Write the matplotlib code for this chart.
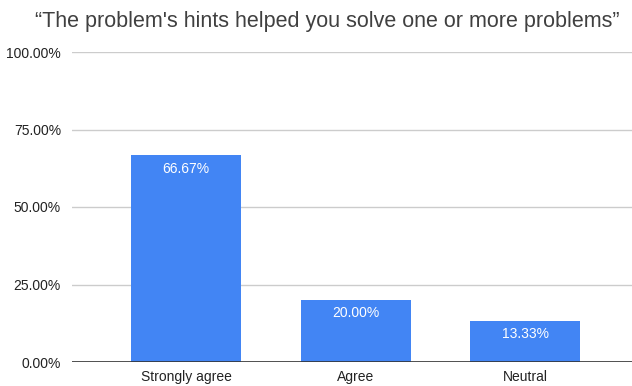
import matplotlib.pyplot as plt
from matplotlib.ticker import PercentFormatter

plt.rcParams['font.family'] = ['Liberation Sans', 'DejaVu Sans']

categories = ['Strongly agree', 'Agree', 'Neutral']
values = [66.67, 20.00, 13.33]
title = '\u201cThe problem\'s hints helped you solve one or more problems\u201d'

fig = plt.figure(figsize=(6.32, 3.86), dpi=100)
ax = fig.add_axes([72 / 632, 1 - 362 / 386, 560 / 632, 310 / 386])

x = range(len(categories))
bars = ax.bar(x, values, width=0.65, color='#4285f4', zorder=3)

for b, v in zip(bars, values):
    ax.annotate(f'{v:.2f}%', (b.get_x() + b.get_width() / 2, v),
                xytext=(0, -9.5), textcoords='offset points',
                ha='center', va='center', color='white', fontsize=10, zorder=4)

ax.set_xlim(-0.673, 2.63)
ax.set_ylim(0, 100)
ax.set_yticks([0, 25, 50, 75, 100])
ax.yaxis.set_major_formatter(PercentFormatter(decimals=2))
ax.set_xticks(list(x))
ax.set_xticklabels(categories)
ax.grid(axis='y', color='#cccccc', linewidth=1, zorder=0)
ax.axhline(0, color='#333333', linewidth=1.2, zorder=5)

for s in ax.spines.values():
    s.set_visible(False)
ax.tick_params(length=0, labelsize=10, colors='#222222', pad=8)
ax.tick_params(axis='x', pad=6)

fig.text(35 / 632, 1 - 22 / 386, title, fontsize=15.5, color='#404040',
         ha='left', va='center')

fig.savefig('out.png', dpi=100)
